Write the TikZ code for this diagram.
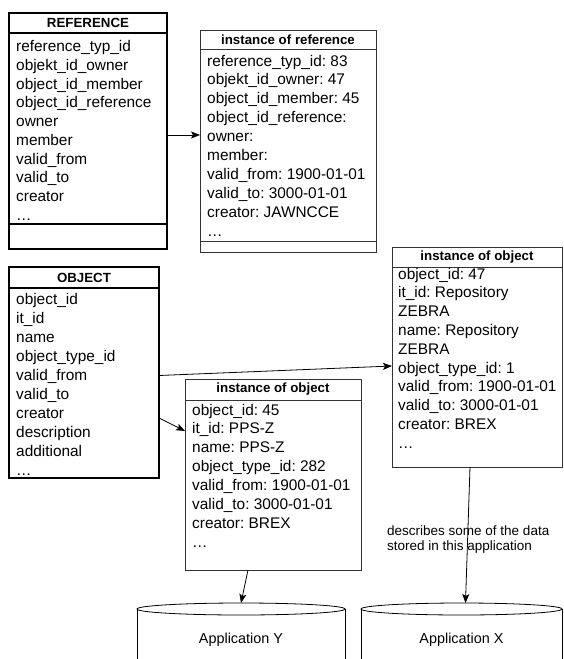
\documentclass[tikz,border=0pt]{standalone}
\usepackage{fontspec}
\setmainfont{Liberation Sans}
\usetikzlibrary{arrows.meta}
\frenchspacing

\begin{document}
\begin{tikzpicture}[x=1pt, y=-1pt,
    table/.style={draw, line width=1.6pt, inner sep=0pt, outer sep=0pt, anchor=north west},
    inst/.style={draw=black!80, line width=0.8pt, inner sep=0pt, outer sep=0pt, anchor=north west},
    head/.style={font=\fontsize{13.3}{15}\selectfont\bfseries, inner sep=0pt},
    field/.style={font=\fontsize{15.4}{19}\selectfont, inner sep=0pt, anchor=base west},
    note/.style={font=\fontsize{13.5}{15}\selectfont, inner sep=0pt, align=left, anchor=west},
    app/.style={font=\fontsize{14.4}{17}\selectfont, inner sep=0pt, outer sep=0pt, anchor=north},
    link/.style={line width=0.8pt, -{Stealth[length=9pt,width=7pt,inset=2pt]}}]
    \useasboundingbox (0,0) rectangle (563,659);

    % REFERENCE table
    \node[table, minimum width=158pt, minimum height=236pt] (reftab) at (9,13) {};
    \draw[line width=1.6pt] ([yshift=-20pt]reftab.north west) -- ([yshift=-20pt]reftab.north east);
    \draw[line width=1.6pt] ([yshift=25pt]reftab.south west) -- ([yshift=25pt]reftab.south east);
    \node[head] at ([yshift=-10pt]reftab.north) {REFERENCE};
    \foreach \f [count=\i from 0] in {reference\_typ\_id, objekt\_id\_owner, object\_id\_member,
        object\_id\_reference, owner, member, valid\_from, valid\_to, creator, \ldots}
        \node[field] at (16, 51.5+18.75*\i) {\f};

    % instance of reference
    \node[inst, minimum width=176pt, minimum height=222pt] (refinst) at (200,30) {};
    \draw[line width=0.8pt, black!80] ([yshift=-19pt]refinst.north west) -- ([yshift=-19pt]refinst.north east);
    \draw[line width=0.8pt, black!80] ([yshift=11pt]refinst.south west) -- ([yshift=11pt]refinst.south east);
    \node[head] at ([yshift=-9.5pt]refinst.north) {instance of reference};
    \foreach \f [count=\i from 0] in {reference\_typ\_id: 83, objekt\_id\_owner: 47, object\_id\_member: 45,
        object\_id\_reference:, owner:, member:, valid\_from: 1900-01-01, valid\_to: 3000-01-01,
        creator: JAWNCCE, \ldots}
        \node[field] at (207, 66+18.9*\i) {\f};

    % OBJECT table
    \node[table, minimum width=150pt, minimum height=211pt] (objtab) at (9,267) {};
    \draw[line width=1.6pt] ([yshift=-21pt]objtab.north west) -- ([yshift=-21pt]objtab.north east);
    \node[head] at ([yshift=-10.5pt]objtab.north) {OBJECT};
    \foreach \f [count=\i from 0] in {object\_id, it\_id, name, object\_type\_id, valid\_from,
        valid\_to, creator, description, additional, \ldots}
        \node[field] at (16, 304+19*\i) {\f};

    % instance of object (45)
    \node[inst, minimum width=176pt, minimum height=191pt] (insty) at (185,379) {};
    \draw[line width=0.8pt, black!80] ([yshift=-21pt]insty.north west) -- ([yshift=-21pt]insty.north east);
    \node[head] at ([yshift=-10.5pt]insty.north) {instance of object};
    \foreach \f [count=\i from 0] in {object\_id: 45, it\_id: PPS-Z, name: PPS-Z, object\_type\_id: 282,
        valid\_from: 1900-01-01, valid\_to: 3000-01-01, creator: BREX, \ldots}
        \node[field] at (192, 415+18.9*\i) {\f};

    % instance of object (47)
    \node[inst, minimum width=170pt, minimum height=220pt] (instx) at (392,247) {};
    \draw[line width=0.8pt, black!80] ([yshift=-20pt]instx.north west) -- ([yshift=-20pt]instx.north east);
    \node[head] at ([yshift=-10pt]instx.north) {instance of object};
    \foreach \f [count=\i from 0] in {object\_id: 47, it\_id: Repository, ZEBRA, name: Repository, ZEBRA,
        object\_type\_id: 1, valid\_from: 1900-01-01, valid\_to: 3000-01-01, creator: BREX, \ldots}
        \node[field] at (398, 279+18.8*\i) {\f};

    % applications
    \node[app, minimum width=208pt, minimum height=74pt] (appy) at (241,603) {Application Y};
    \draw[line width=0.8pt] ([yshift=-6pt]appy.north) ellipse [x radius=104pt, y radius=6pt];
    \draw[line width=0.8pt] ([yshift=-6pt]appy.north west) -- (appy.south west)
        ([yshift=-6pt]appy.north east) -- (appy.south east);
    \node[app, minimum width=201pt, minimum height=74pt] (appx) at (461.5,603) {Application X};
    \draw[line width=0.8pt] ([yshift=-6pt]appx.north) ellipse [x radius=100.5pt, y radius=6pt];
    \draw[line width=0.8pt] ([yshift=-6pt]appx.north west) -- (appx.south west)
        ([yshift=-6pt]appx.north east) -- (appx.south east);

    % links
    \draw[link] ([yshift=-4pt]reftab.east) -- ([yshift=6pt]refinst.west);
    \draw[link] ([yshift=-3pt]objtab.east) -- ([yshift=-9pt]instx.west);
    \draw[link] ([yshift=-45.5pt]objtab.east) -- ([yshift=43.5pt]insty.west);
    \draw[link] ([xshift=-25pt]insty.south) -- (appy.north);
    \draw[link] ([xshift=-7pt]instx.south) -- ([xshift=4pt]appx.north);
    \node[note] (note) at (387,539.5) {describes some of the data\\stored in this application};
\end{tikzpicture}
\end{document}
